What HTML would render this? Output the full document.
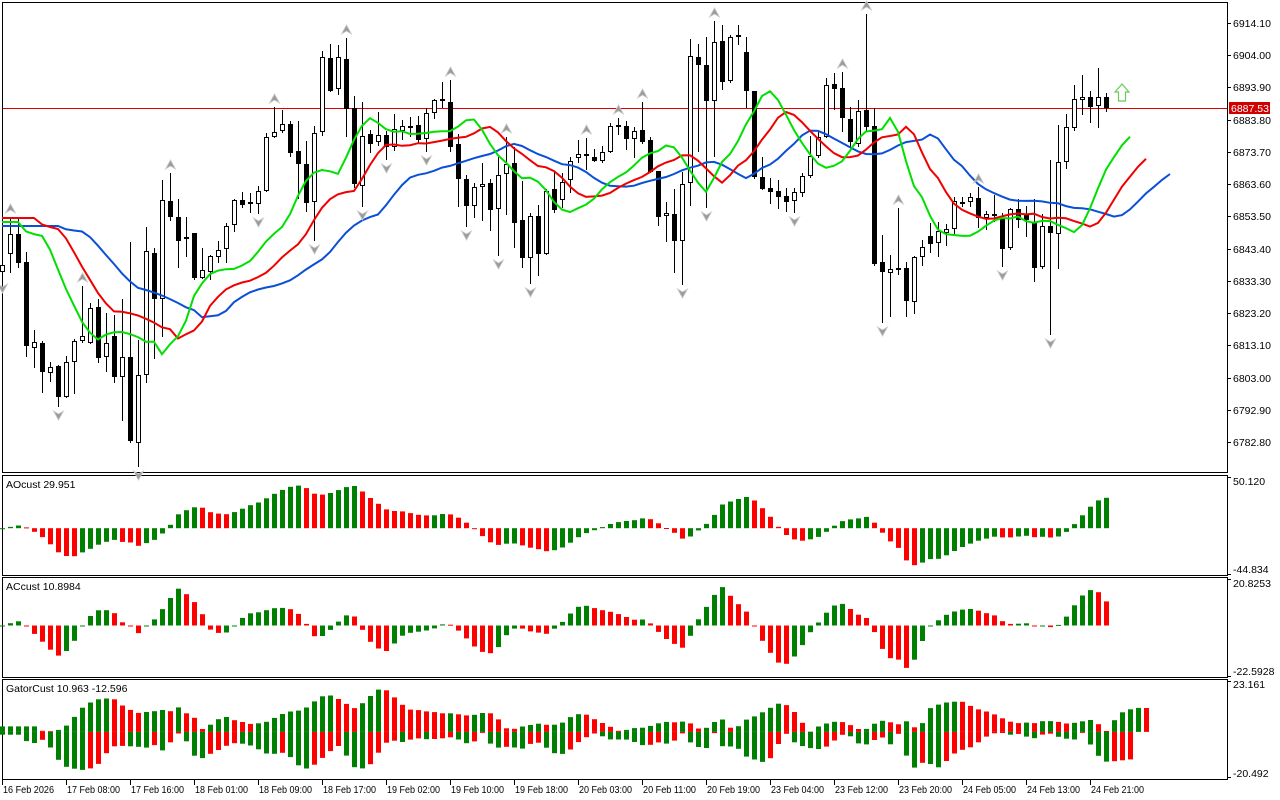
<!DOCTYPE html>
<html><head><meta charset="utf-8"><style>
html,body{margin:0;padding:0;background:#fff;}
svg{display:block;font-family:"Liberation Sans",sans-serif;font-size:10.5px;}
</style></head><body>
<svg id="s" width="1280" height="800" xmlns="http://www.w3.org/2000/svg"></svg>
<script>
const D=[[272,265,258,280],[254,234,217,273],[234,263,218,268],[262,346,252,357],[348,342,330,368],[343,372,341,393],[373,367,362,382],[366,397,365,407],[397,362,356,398],[362,341,339,394],
[341,336,286,343],[343,308,303,344],[307,358,299,363],[357,343,313,372],[336,377,315,383],[377,357,299,421],[357,441,242,443],[443,375,340,467],[375,251,227,383],[253,299,248,359],
[299,200,180,337],[201,217,173,221],[217,241,199,268],[237,239,217,257],[233,278,233,280],[278,270,248,279],[272,256,255,280],[257,250,241,263],[249,226,223,263],[225,200,199,232],
[200,205,192,208],[202,204,193,213],[204,191,186,214],[191,137,133,192],[137,132,107,138],[131,124,110,133],[124,153,121,157],[151,164,121,199],[164,203,141,212],[202,133,126,241],
[132,57,51,136],[58,91,44,92],[89,57,45,95],[59,109,38,137],[108,184,96,188],[186,136,102,207],[134,144,130,153],[142,135,112,146],[135,147,131,160],[147,129,114,151],
[131,126,120,140],[126,128,117,137],[125,140,116,143],[139,113,108,152],[113,100,99,119],[99,101,82,108],[102,147,80,152],[144,179,134,207],[179,206,175,227],[206,187,183,218],
[187,184,163,221],[183,210,179,231],[209,175,157,256],[174,164,137,215],[163,223,147,248],[220,258,181,268],[258,216,213,284],[216,254,205,276],[254,191,189,255],[189,210,172,213],
[200,182,173,208],[180,161,157,193],[158,154,140,163],[154,156,138,170],[157,161,149,162],[161,152,146,163],[152,126,123,153],[125,127,118,135],[126,139,121,150],[139,131,127,158],
[130,142,102,144],[140,172,137,173],[171,217,171,226],[216,213,202,242],[214,241,189,273],[241,184,172,285],[183,56,39,206],[57,65,44,152],[65,101,37,208],[101,42,21,157],
[41,82,25,90],[81,37,35,83],[35,37,25,45],[52,91,37,108],[91,177,91,179],[177,189,157,190],[188,192,178,204],[191,197,180,209],[196,202,188,212],[201,192,188,213],
[193,176,173,197],[176,156,136,178],[156,137,131,158],[137,85,78,138],[84,89,73,110],[88,118,72,132],[119,142,107,147],[144,111,100,147],[110,127,14,132],[126,264,108,266],
[262,272,235,323],[273,269,255,317],[268,270,208,275],[268,301,262,317],[302,257,256,314],[257,247,240,266],[236,244,223,253],[243,231,222,257],[233,229,224,246],[229,201,197,234],
[202,203,197,207],[202,197,193,207],[198,218,187,228],[218,214,211,230],[214,216,195,222],[218,249,213,267],[248,209,208,250],[209,220,199,228],[215,220,206,237],[223,268,199,282],
[267,226,214,269],[226,233,160,335],[234,162,125,269],[162,127,114,169],[128,99,85,131],[100,97,75,115],[97,107,91,123],[106,97,68,128],[97,108,93,112]];
const N=D.length, K=3.1914;
const P=y=>6914.1-(y-23)/K, Y=p=>23+(6914.1-p)*K, X=i=>2+8*i;
let s='';
s+='<rect x="2.5" y="2.5" width="1225" height="470" fill="none" stroke="#000"/>';
s+='<rect x="2.5" y="475.5" width="1225" height="100" fill="none" stroke="#000"/>';
s+='<rect x="2.5" y="577.5" width="1225" height="100" fill="none" stroke="#000"/>';
s+='<rect x="2.5" y="679.5" width="1225" height="100" fill="none" stroke="#000"/>';
for(let k=0;k<14;k++){const p=6914.1-10.1*k, y=Math.round(Y(p));
 s+=`<line x1="1227" y1="${y+.5}" x2="1231" y2="${y+.5}" stroke="#000"/><text x="1233" y="${y+4}">${p.toFixed(2)}</text>`;}
s+='<line x1="3" y1="108.5" x2="1227" y2="108.5" stroke="#e00000"/>';
s+='<rect x="1229" y="102" width="41" height="12" fill="#d00000"/><text x="1231" y="112" fill="#fff">6887.53</text>';
const M=D.map(d=>(P(d[2])+P(d[3]))/2);
function smma(n,init){let v=P(init),o=[];for(let i=0;i<N;i++){v=(v*(n-1)+M[i])/n;o.push(v);}return o;}
const IJ=226,IT=218,IL=222;
const sj=smma(13,IJ), st=smma(8,IT), sl=smma(5,IL);
const get=(a,i,init)=>i<0?P(init):a[i];
function line(a,sh,init,col){let pts=[];for(let j=0;j<N+sh;j++){const v=get(a,j-sh,init);pts.push(X(j)+','+Y(v).toFixed(1));}
 return `<polyline points="${pts.join(' ')}" fill="none" stroke="${col}" stroke-width="2"/>`;}
for(let i=0;i<N;i++){const [o,c,h,l]=D[i],x=X(i);
 s+=`<line x1="${x+.5}" y1="${h}" x2="${x+.5}" y2="${l}" stroke="#000"/>`;
 const t=Math.min(o,c),b=Math.max(o,c);
 if(c<o) s+=`<rect x="${x-1.5}" y="${t+.5}" width="4" height="${Math.max(b-t-1,1)}" fill="#fff" stroke="#000"/>`;
 else s+=`<rect x="${x-2}" y="${t}" width="5" height="${Math.max(b-t,2)}" fill="#000"/>`;}
s+=line(sj,8,IJ,'#0a4fd8')+line(st,5,IT,'#f00000')+line(sl,3,IL,'#00e000');
function up(x,y){return `<polygon points="${x},${y} ${x+5},${y+9} ${x},${y+6} ${x-5},${y+9}" fill="#9a9a9a" stroke="#c8c8c8" stroke-width="0.8"/>`;}
function dn(x,y){return `<polygon points="${x},${y} ${x+5},${y-9} ${x},${y-6} ${x-5},${y-9}" fill="#9a9a9a" stroke="#c8c8c8" stroke-width="0.8"/>`;}
for(let i=0;i<N-2;i++){let fu=true,fd=true;
 for(let k=i-2;k<=i+2;k++){if(k<0||k===i)continue;if(D[k][2]<=D[i][2])fu=false;if(D[k][3]>=D[i][3])fd=false;}
 if(fu)s+=up(X(i)+.5,D[i][2]-13); if(fd)s+=dn(X(i)+.5,D[i][3]+13);}
s+='<polygon points="1122,84 1129,92 1125.5,92 1125.5,101 1118.5,101 1118.5,92 1115,92" fill="#fff" stroke="#66cc55" stroke-width="1.2"/>';
const pad=M[0];const Mp=i=>i<0?pad:M[i];
const sma=(n,i)=>{let t=0;for(let k=0;k<n;k++)t+=Mp(i-k);return t/n;};
const AO=[];for(let i=0;i<N;i++)AO.push(sma(5,i)-sma(34,i));
const AC=[];for(let i=0;i<N;i++){let t=0;for(let k=0;k<5;k++)t+=AO[Math.max(i-k,0)];AC.push(AO[i]-t/5);}
function hist(a,z,sc,top,bot){let r='';for(let i=0;i<a.length;i++){const v=a[i],col=(i>0&&v<a[i-1])?'#ff0000':'#008000';
 let y1=z,y2=z-v*sc;y2=Math.max(top,Math.min(bot,y2));const t=Math.min(y1,y2),h=Math.max(Math.abs(y2-y1),1);
 r+=`<rect x="${X(i)-2}" y="${t.toFixed(1)}" width="5" height="${h.toFixed(1)}" fill="${col}"/>`;}return r;}
s+=hist(AO,528.2,1.0216,477,574);
s+=hist(AC,625.5,2.234,579,676);
const jaw=j=>get(sj,j-8,IJ),tee=j=>get(st,j-5,IT),lip=j=>get(sl,j-3,IL);
let pu=null,pl=null;
for(let j=0;j<N+5;j++){const u=Math.abs(jaw(j)-tee(j));const col=(pu!==null&&u<pu)?'#ff0000':'#008000';pu=u;
 const h=Math.min(u*2.199,50);s+=`<rect x="${X(j)-2}" y="${(731.9-h).toFixed(1)}" width="5" height="${Math.max(h,1).toFixed(1)}" fill="${col}"/>`;
 if(j-3<N){const l=Math.abs(tee(j)-lip(j));const c2=(pl!==null&&l<pl)?'#ff0000':'#008000';pl=l;
 const h2=Math.min(l*2.199,46);s+=`<rect x="${X(j)-2}" y="731.9" width="5" height="${Math.max(h2,1).toFixed(1)}" fill="${c2}"/>`;}}
const ax=[[477,481,'50.120'],[574,569,'-44.834'],[579,583,'20.8253'],[676,671,'-22.5928'],[681,684,'23.161'],[777,773,'-20.492']];
for(const [y,c,t] of ax)s+=`<line x1="1227" y1="${y+.5}" x2="1231" y2="${y+.5}" stroke="#000"/><text x="1233" y="${c+4}">${t}</text>`;
s+='<text x="6" y="488">AOcust 29.951</text><text x="6" y="590">ACcust 10.8984</text><text x="6" y="692">GatorCust 10.963 -12.596</text>';
const T=['16 Feb 2026','17 Feb 08:00','17 Feb 16:00','18 Feb 01:00','18 Feb 09:00','18 Feb 17:00','19 Feb 02:00','19 Feb 10:00','19 Feb 18:00','20 Feb 03:00','20 Feb 11:00','20 Feb 19:00','23 Feb 04:00','23 Feb 12:00','23 Feb 20:00','24 Feb 05:00','24 Feb 13:00','24 Feb 21:00'];
T.forEach((t,k)=>{const x=2+64*k;s+=`<line x1="${x+.5}" y1="780" x2="${x+.5}" y2="785" stroke="#000"/><text x="${x+1}" y="793" textLength="${t.length===11?51:53}" lengthAdjust="spacingAndGlyphs">${t}</text>`;});
document.getElementById('s').innerHTML=s;
</script>
</body></html>
